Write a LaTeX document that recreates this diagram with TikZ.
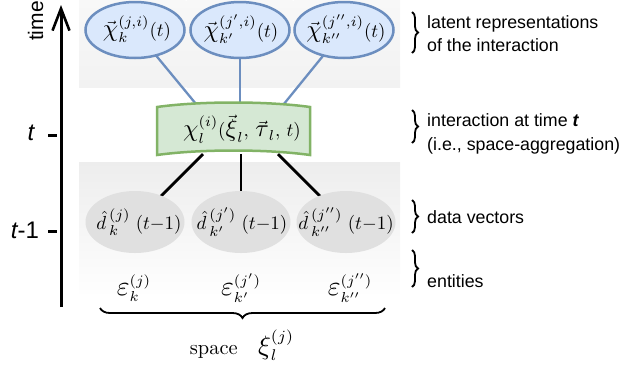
\RequirePackage{fix-cm}
\documentclass[tikz,border=0pt]{standalone}
\usepackage{fontspec}
\newfontfamily\lab{Liberation Sans}
\usetikzlibrary{shapes.geometric,arrows.meta,decorations.pathreplacing}
\pgfdeclarelayer{bg}\pgfdeclarelayer{mid}\pgfsetlayers{bg,mid,main}
\DeclareMathSizes{10}{10}{7.6}{5.5}
\newcommand{\Gk}[1]{\scalebox{1.3}{$#1$}}
\newcommand{\Ge}[1]{\scalebox{1.45}{$#1$}}
\newcommand{\ML}[1]{\scalebox{1.9}{\fontsize{10}{12}\selectfont$#1$}}
\definecolor{bfill}{HTML}{DAE8FC}
\definecolor{bline}{HTML}{6C8EBF}
\definecolor{gfill}{HTML}{D5E8D4}
\definecolor{gline}{HTML}{82B366}
\definecolor{dfill}{HTML}{E0E0E0}
\definecolor{pTopA}{HTML}{F8F8F8}
\definecolor{pTopB}{HTML}{F2F2F2}
\definecolor{pBotA}{HTML}{EDEDED}
\definecolor{pBotB}{HTML}{FEFEFE}
\begin{document}
\begin{tikzpicture}[x=1bp,y=-1bp,
  latent/.style={ellipse,draw=bline,fill=bfill,line width=2.5bp,minimum width=99bp,minimum height=56bp,inner sep=0pt},
  datav/.style={ellipse,fill=dfill,minimum width=99bp,minimum height=62bp,inner sep=0pt},
  mlab/.style={inner sep=0pt},
  slab/.style={inner sep=0pt,font=\lab\fontsize{17.8bp}{23.5bp}\selectfont,align=left,anchor=west},
  bluecon/.style={draw=bline,line width=2.3bp},
  blackcon/.style={draw=black,line width=2.8bp},
  rbrace/.style={decorate,decoration={brace,amplitude=6bp},line width=1.8bp},
  bbrace/.style={decorate,decoration={brace,amplitude=10bp},line width=1.8bp},
  tick/.style={line width=3bp}]
\useasboundingbox (0,0) rectangle (621,368);

% background panels
\begin{pgfonlayer}{bg}
\foreach \a/\b in {79/185.5,186.5/292.5,293.5/400}{
  \shade[top color=pTopA,bottom color=pTopB] (\a,0) rectangle (\b,87);
  \shade[top color=pBotA,bottom color=pBotB] (\a,162) rectangle (\b,293);
}
\end{pgfonlayer}

% latent representation ellipses
\node[latent] (b1) at (135,30) {};
\node[latent] (b2) at (240,30) {};
\node[latent] (b3) at (344,30) {};
\node[mlab] (b1l) at (137,29) {\ML{\vec{\Gk{\chi}}^{(j,i)}_{k}(t)}};
\node[mlab] (b2l) at (241,29) {\ML{\vec{\Gk{\chi}}^{(j',i)}_{k'}(t)}};
\node[mlab] (b3l) at (346,29) {\ML{\vec{\Gk{\chi}}^{(j'',i)}_{k''}(t)}};

% interaction shape
\draw[line width=2.5bp,draw=gline,fill=gfill]
  (157,107) .. controls (200,101) and (267,101) .. (310,107)
  -- (310,155) .. controls (267,149) and (200,149) .. (157,155) -- cycle;
\node[inner sep=0pt,minimum width=153bp,minimum height=48bp] (g) at (233.5,130) {};
\node[mlab] (gl) at (242,129)
  {\ML{\Gk{\chi}^{(i)}_{l}(\vec{\Gk{\xi}}_{l},\,\vec{\Gk{\tau}}_{l},\,t)}};

% data vector ellipses
\node[datav] (d1) at (135,222) {};
\node[datav] (d2) at (241,222) {};
\node[datav] (d3) at (346,222) {};
\node[mlab] (d1l) at (139,222) {\ML{\hat{d}^{\,(j)}_{\,k}\;(t{-}1)}};
\node[mlab] (d2l) at (242,222) {\ML{\hat{d}^{\,(j')}_{\,k'}\;(t{-}1)}};
\node[mlab] (d3l) at (346,222) {\ML{\hat{d}^{\,(j'')}_{\,k''}\;(t{-}1)}};

% entities
\node[mlab] (e1) at (134,288) {\ML{\Ge{\varepsilon}^{(j)}_{k}}};
\node[mlab] (e2) at (241,288) {\ML{\Ge{\varepsilon}^{(j')}_{k'}}};
\node[mlab] (e3) at (350,288) {\ML{\Ge{\varepsilon}^{(j'')}_{k''}}};

% connectors
\begin{pgfonlayer}{mid}
\draw[bluecon] (b1.center) -- ([xshift=-33.5bp,yshift=-3bp]g.north);
\draw[bluecon] (b2.center) -- (b2.center |- g.north);
\draw[bluecon] (b3.center) -- ([xshift=46.5bp,yshift=-3bp]g.north);
\draw[blackcon] ([xshift=-30.5bp]g.south) -- (d1.center);
\draw[blackcon] (d2.center |- g.south) -- (d2.center);
\draw[blackcon] ([xshift=44.5bp]g.south) -- (d3.center);
\end{pgfonlayer}

% time axis
\draw[line width=3bp,-{Straight Barb[length=22bp,width=17bp,line width=2.6bp]}] (61,307) -- (61,5);
\node[inner sep=0pt,rotate=90,font=\lab\fontsize{21bp}{25bp}\selectfont] (time) at (35.5,21) {time};
\draw[tick] (48,135) -- (57,135);
\draw[tick] (48,231) -- (57,231);
\node[inner sep=0pt,font=\lab\fontsize{24bp}{28bp}\selectfont] (tl) at (31,133) {\itshape t};
\node[inner sep=0pt,font=\lab\fontsize{24bp}{28bp}\selectfont] (tml) at (25,230) {{\itshape t}-1};

% right braces and labels
\draw[rbrace] (412,12) -- (412,53);
\draw[rbrace] (412,110) -- (412,143);
\draw[rbrace] (412,200) -- (412,233);
\draw[rbrace] (412,250) -- (412,287);
\node[slab] (lat) at (427,33.5) {latent representations\\of the interaction};
\node[slab] (int) at (427,134) {interaction at time \textbf{\textit{t}}\\(i.e., space-aggregation)};
\node[slab] (dat) at (427,217) {data vectors};
\node[slab] (ent) at (427,281) {entities};

% bottom brace
\draw[bbrace] (385,308) -- (100,308);
\node[inner sep=0pt] (sp) at (242,345) {\scalebox{2.05}{\fontsize{10}{12}\selectfont space\quad$\Gk{\xi}^{(j)}_{l}$}};
\end{tikzpicture}
\end{document}
